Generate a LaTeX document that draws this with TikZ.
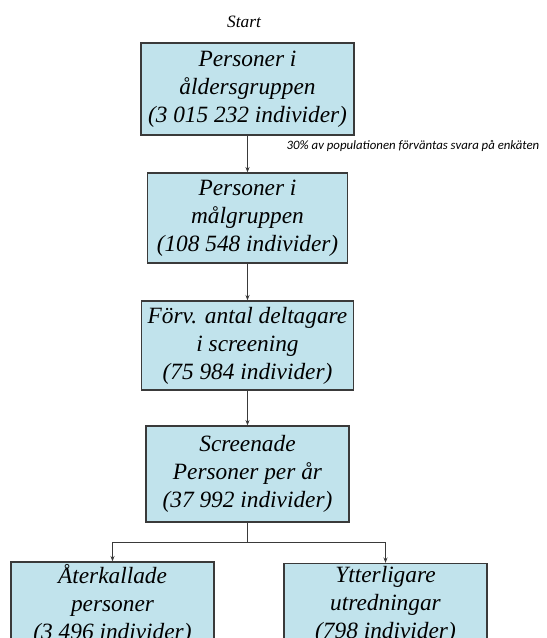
\documentclass[tikz,border=0pt]{standalone}
\usepackage{fontspec}
\setmainfont{Liberation Serif}
\newfontfamily\notefont{Carlito}
\usetikzlibrary{arrows.meta}

\definecolor{boxblue}{HTML}{C1E3EC}
\definecolor{lineGray}{HTML}{3A3A3A}

\begin{document}
\begin{tikzpicture}[x=0.75pt, y=-0.75pt]

	\tikzset{
	flowbox/.style={draw=lineGray, fill=boxblue, line width=0.9pt, align=center,
		inner sep=2pt, minimum height=69pt, font=\fontsize{17.5}{21}\selectfont\itshape},
	flowarrow/.style={draw=lineGray, line width=0.7pt, -{Stealth[length=4pt,width=3pt]}}
	}

	\useasboundingbox (0,0) rectangle (546,638);

	% Nodes
	\node[font=\fontsize{13}{15}\selectfont\itshape] (start) at (244,22) {Start};

	\node[flowbox, minimum width=159.75pt] (alder) at (247.5,89)
		{Personer i\\åldersgruppen\\(3 015 232 individer)};
	\node[flowbox, minimum width=150pt, minimum height=67.5pt, node distance=96.75pt, below of=alder] (mal)
		{Personer i\\målgruppen\\(108 548 individer)};
	\node[flowbox, minimum width=159pt, minimum height=66.75pt, node distance=95.6pt, below of=mal] (forv)
		{Förv. antal deltagare\\i screening\\(75 984 individer)};
	\node[flowbox, minimum width=152.25pt, minimum height=72pt, node distance=96.4pt, below of=forv] (screen)
		{Screenade\\Personer per år\\(37 992 individer)};

	\node[flowbox, minimum width=152.25pt, minimum height=0pt, node distance=98pt, below of=screen, xshift=-101.25pt] (ater)
		{Återkallade\\personer\\(3 496 individer)};
	\node[flowbox, minimum width=152.25pt, minimum height=0pt, node distance=98pt, below of=screen, xshift=103.5pt] (ytter)
		{Ytterligare\\utredningar\\(798 individer)};

	\node[anchor=west, font=\notefont\fontsize{9.6}{11}\selectfont\itshape] (note) at (282,146)
		{30\% av populationen förväntas svara på enkäten};

	\coordinate[node distance=51pt, below of=screen] (split);

	% Lines
	\draw[flowarrow] (alder) -- (mal);
	\draw[flowarrow] (mal) -- (forv);
	\draw[flowarrow] (forv) -- (screen);
	\draw[draw=lineGray, line width=0.7pt] (screen.south) -- (split);
	\draw[flowarrow] (split) -| (ater.north);
	\draw[flowarrow] (split) -| (ytter.north);

\end{tikzpicture}
\end{document}
